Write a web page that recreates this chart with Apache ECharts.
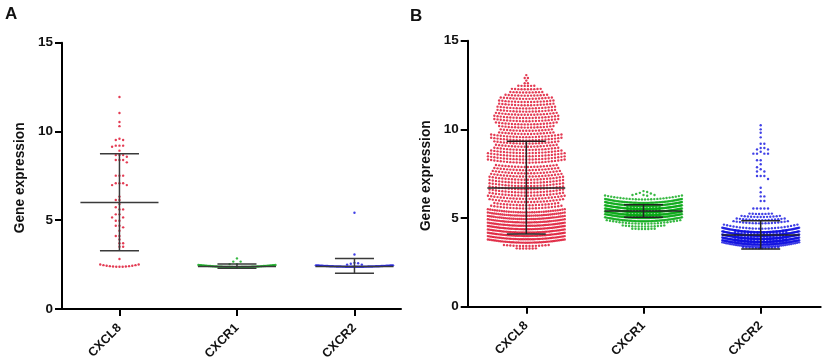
<!DOCTYPE html>
<html><head><meta charset="utf-8">
<style>html,body{margin:0;padding:0;background:#fff}#c{width:825px;height:360px;filter:blur(0.3px)}</style>
<script src="https://cdn.jsdelivr.net/npm/echarts@6/dist/echarts.min.js"></script>
</head><body><div id="c"></div>
<script>
const categories = ['CXCL8','CXCR1','CXCR2'];
const yTicks = [0,5,10,15];
const panelLetters = ['A','B'];
const yTitle = 'Gene expression';

// Panel A: individually readable values, and the low dense rows (level, dot count)
const aRedValues = [11.94,11.04,10.53,10.3,9.59,9.52,9.52,9.2,9.2,9.2,9.14,8.92,8.67,8.67,8.67,8.58,8.39,8.39,8.39,8.26,7.51,7.51,7.51,7.08,7.08,7.08,6.98,6.98,6.33,6.14,6.14,5.91,5.73,5.61,5.61,5.33,5.33,5.16,5.16,4.97,4.97,4.69,4.69,4.6,4.41,4.11,4.11,3.92,3.7,3.7,3.51,3.51,2.82];
const aRedLevels = [2.38];
const aRedCounts = [13];
const aGreenValues = [2.85,2.67,2.67,2.53,2.53];
const aGreenLevels = [2.36];
const aGreenCounts = [60];
const aBlueValues = [5.42,3.07,2.6,2.58,2.55,2.5,2.5];
const aBlueLevels = [2.38];
const aBlueCounts = [60];
const aMeans = [6.0,2.4,2.4];
const aUpper = [8.75,2.53,2.85];
const aLower = [3.28,2.3,2.02];

// Panel B: rows (level, dot count)
const bRedLevels = [13.06,12.9,12.75,12.6,12.45,12.26,12.08,11.9,11.72,11.54,11.36,11.18,11.0,10.82,10.64,10.46,10.28,10.1,9.92,9.74,9.56,9.38,9.2,9.02,8.84,8.66,8.48,8.3,8.12,7.88,7.7,7.52,7.34,7.16,6.98,6.8,6.62,6.44,6.26,6.08,5.9,5.72,5.54,5.32,5.13,4.94,4.75,4.56,4.37,4.18,3.99,3.8,3.61,3.42,3.28];
const bRedCounts = [1,2,1,2,6,10,11,14,17,18,18,19,19,20,21,21,20,18,17,18,23,23,21,20,21,23,25,25,25,20,21,22,23,24,24,24,24,24,24,25,24,21,23,34,38,40,42,44,46,46,48,46,44,15,7];
const bGreenValues = [6.52,6.47,6.42,6.38,6.36,6.3,6.3,6.3,6.26];
const bGreenLevels = [6.05,5.85,5.68,5.5,5.32,5.15,5.0,4.82,4.68,4.52,4.38,5.6,5.5,5.4,5.3,5.2,5.1];
const bGreenCounts = [26,60,75,85,90,85,75,60,24,14,8,11,11,11,11,11,11];
const bBlueValues = [10.23,10.0,9.81,9.55,9.19,9.19,8.95,8.95,8.87,8.87,8.74,8.63,8.63,8.63,8.63,8.26,8.26,8.03,7.86,7.75,7.62,7.62,7.37,7.37,7.37,7.2,6.71,6.45,6.22,6.22,5.96,5.96,5.54,5.54,5.54,5.54,5.54];
const bBlueLevels = [5.23,5.06,4.88,4.7,4.4,4.2,4.0,3.82,3.65,3.5,3.38,3.3,4.2,4.1,4.0,3.9,3.8,3.7,3.6];
const bBlueCounts = [8,13,16,18,24,70,90,100,100,90,40,12,17,17,17,17,17,17,17];
const bMeans = [6.7,5.4,4.05];
const bUpper = [9.33,5.75,4.85];
const bLower = [4.1,5.05,3.25];

const RED='#dc0a28', GREEN='#06a814', BLUE='#1010e0';
const DOT_GAP=3.2, ROW_HALF=38.5, PX_PER_CAT=117.4, PX_PER_UNIT=17.74;

function rowPoints(cat, levels, counts, sag){
  const pts=[];
  levels.forEach((lv,r)=>{
    const n=counts[r];
    const gap=n>1?Math.min(DOT_GAP,2*ROW_HALF/(n-1)):0;
    for(let i=0;i<n;i++){
      const off=(i-(n-1)/2)*gap;
      pts.push([cat+off/PX_PER_CAT, lv+sag*(off/ROW_HALF)*(off/ROW_HALF)]);
    }
  });
  return pts;
}
function swarmPoints(cat, values){
  const placed=[];
  values.forEach(v=>{
    const yp=v*PX_PER_UNIT;
    for(let k=0;k<40;k++){
      const off=(k%2?1:-1)*Math.ceil(k/2)*DOT_GAP*(placed.length%2?1:-1)*1.15;
      if(placed.every(p=>Math.hypot(p[0]-off,p[1]-yp)>=3.3)){placed.push([off,yp,v]);break;}
    }
  });
  return placed.map(p=>[cat+p[0]/PX_PER_CAT,p[2]]);
}
function dots(grid,color,data){
  return {type:'scatter',xAxisIndex:grid,yAxisIndex:grid,data,symbol:'circle',symbolSize:2.4,silent:true,
    itemStyle:{color},animation:false,z:2};
}
function bars(grid,means,upper,lower,color){
  return {type:'custom',xAxisIndex:grid,yAxisIndex:grid,silent:true,animation:false,z:5,
    data:means.map((m,i)=>[i,m,upper[i],lower[i]]),
    encode:{x:0,y:[1,2,3]},
    renderItem(params,api){
      const x=api.value(0),m=api.value(1),u=api.value(2),l=api.value(3);
      const seg=(x0,y0,x1,y1)=>{const a=api.coord([x0,y0]),b=api.coord([x1,y1]);
        return {type:'line',shape:{x1:a[0],y1:a[1],x2:b[0],y2:b[1]},style:{stroke:color,lineWidth:1.5}};};
      const capW=19.5/PX_PER_CAT,meanW=39/PX_PER_CAT;
      return {type:'group',children:[seg(x-meanW,m,x+meanW,m),seg(x-capW,u,x+capW,u),seg(x-capW,l,x+capW,l),seg(x,u,x,l)]};
    }};
}
const fmt=(i)=>categories[i];
function xAxis(grid,min,max){
  return {type:'value',gridIndex:grid,min,max,splitLine:{show:false},
    axisLine:{show:true,onZero:false,lineStyle:{color:'#000',width:2}},
    axisTick:{show:true,customValues:[0,1,2],length:7,inside:false,lineStyle:{color:'#000',width:2}},
    axisLabel:{show:true,customValues:[0,1,2],formatter:(v)=>fmt(v),rotate:45,margin:17,color:'#111',
      fontFamily:'Liberation Sans',fontWeight:'bold',fontSize:12.5}};
}
function yAxis(grid,nameGap){
  return {type:'value',gridIndex:grid,min:yTicks[0],max:yTicks[3],interval:5,splitLine:{show:false},
    name:yTitle,nameLocation:'middle',nameGap,nameRotate:90,
    nameTextStyle:{color:'#111',fontFamily:'Liberation Sans',fontWeight:'bold',fontSize:13.75,padding:[0,4,0,0]},
    axisLine:{show:true,onZero:false,lineStyle:{color:'#000',width:2}},
    axisTick:{show:true,length:7,lineStyle:{color:'#000',width:2}},
    axisLabel:{color:'#111',margin:9,fontFamily:'Liberation Sans',fontWeight:'bold',fontSize:13.5}};
}
const chart=echarts.init(document.getElementById('c'),null,{renderer:'canvas'});
chart.setOption({
  animation:false,backgroundColor:'#fff',
  title:[
    {text:panelLetters[0],left:0,top:1,textStyle:{fontFamily:'Liberation Sans',fontWeight:'bold',fontSize:17,color:'#111'}},
    {text:panelLetters[1],left:405,top:3,textStyle:{fontFamily:'Liberation Sans',fontWeight:'bold',fontSize:17,color:'#111'}}
  ],
  grid:[
    {left:62,top:42.7,width:339,height:266.3,outerBoundsMode:'none'},
    {left:467.7,top:40.7,width:353,height:266,outerBoundsMode:'none'}
  ],
  xAxis:[xAxis(0,-0.489,2.396),xAxis(1,-0.5,2.512)],
  yAxis:[yAxis(0,35),yAxis(1,34)],
  series:[
    dots(0,RED,swarmPoints(0,aRedValues).concat(rowPoints(0,aRedLevels,aRedCounts,0.52))),
    dots(0,GREEN,swarmPoints(1,aGreenValues).concat(rowPoints(1,aGreenLevels,aGreenCounts,0.12))),
    dots(0,BLUE,swarmPoints(2,aBlueValues).concat(rowPoints(2,aBlueLevels,aBlueCounts,0.08))),
    bars(0,aMeans,aUpper,aLower,'#3a3a3a'),
    dots(1,RED,rowPoints(0,bRedLevels,bRedCounts,0.18)),
    dots(1,GREEN,swarmPoints(1,bGreenValues).concat(rowPoints(1,bGreenLevels,bGreenCounts,0.22))),
    dots(1,BLUE,swarmPoints(2,bBlueValues).concat(rowPoints(2,bBlueLevels,bBlueCounts,0.25))),
    bars(1,bMeans,bUpper,bLower,'#222')
  ]
});
</script></body></html>
